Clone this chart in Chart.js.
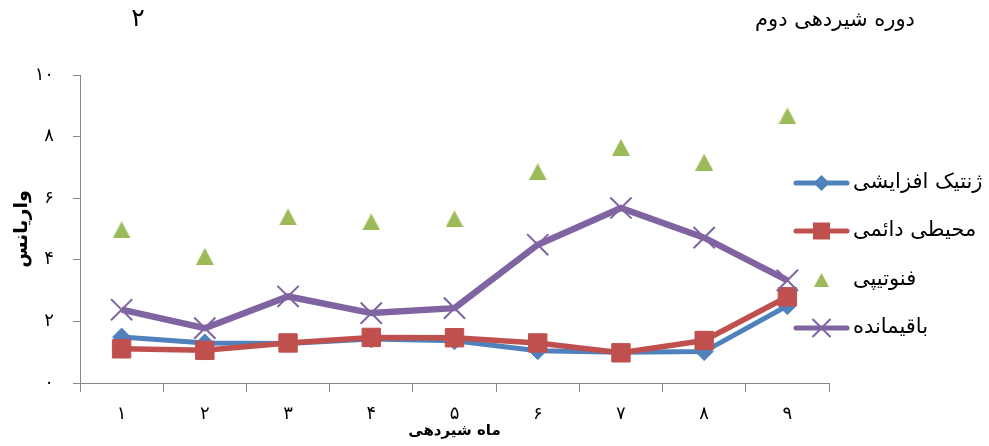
<!DOCTYPE html>
<html lang="fa">
<head>
<meta charset="utf-8">
<title>دوره شیردهی دوم</title>
<script src="https://cdn.jsdelivr.net/npm/chart.js@4/dist/chart.umd.min.js"></script>
<style>
  html, body { margin: 0; padding: 0; background: #ffffff; }
  #wrap { position: relative; width: 989px; height: 446px; }
</style>
</head>
<body>
<div id="wrap"><canvas id="chart" width="989" height="446"></canvas></div>
<script>
// Lactation months (category labels)
const months = ['۱', '۲', '۳', '۴', '۵', '۶', '۷', '۸', '۹'];

// Variance components per month
const additiveGenetic = [1.49, 1.30, 1.28, 1.43, 1.37, 1.05, 1.00, 1.02, 2.51];
const permanentEnv    = [1.11, 1.06, 1.30, 1.48, 1.47, 1.30, 0.98, 1.38, 2.80];
const phenotypic      = [4.97, 4.11, 5.39, 5.23, 5.33, 6.86, 7.65, 7.17, 8.67];
const residual        = [2.38, 1.78, 2.81, 2.27, 2.43, 4.49, 5.68, 4.72, 3.33];

// Series names
const seriesNames = ['ژنتیک افزایشی', 'محیطی دائمی', 'فنوتیپی', 'باقیمانده'];

// Text
const chartTitle = 'دوره شیردهی دوم';
const cornerNumber = '۲';
const xTitle = 'ماه شیردهی';
const yTitle = 'واریانس';

const FONT = '"DejaVu Sans", "Noto Sans", sans-serif';
const AXIS_GRAY = '#868686';
const BLUE = '#4F81BD', RED = '#C0504D', GREEN = '#9BBB59', PURPLE = '#8064A2';

const faDigits = '۰۱۲۳۴۵۶۷۸۹';
const toFa = n => String(n).replace(/\d/g, d => faDigits[+d]);

// Triangle marker sprite, centred on its bounding box
function triangleSprite(w, h, color) {
  const c = document.createElement('canvas');
  c.width = w; c.height = h;
  const g = c.getContext('2d');
  g.fillStyle = color;
  g.beginPath();
  g.moveTo(w / 2, 0); g.lineTo(w, h); g.lineTo(0, h);
  g.closePath(); g.fill();
  return c;
}
const greenTriangle = triangleSprite(18, 17, GREEN);
const greenTriangleSmall = triangleSprite(15, 14, GREEN);

// Legend drawn to the right of the plot: a line with its marker, then the name
function drawMarker(ctx, style, x, y, r, color) {
  ctx.save();
  ctx.fillStyle = color;
  ctx.strokeStyle = color;
  ctx.beginPath();
  if (style === 'rectRot') {
    ctx.moveTo(x - r, y); ctx.lineTo(x, y - r); ctx.lineTo(x + r, y); ctx.lineTo(x, y + r);
    ctx.closePath(); ctx.fill();
  } else if (style === 'rect') {
    ctx.rect(x - r, y - r, 2 * r, 2 * r); ctx.fill();
  } else if (style === 'triangle') {
    ctx.drawImage(greenTriangleSmall, x - greenTriangleSmall.width / 2, y - greenTriangleSmall.height / 2);
  } else if (style === 'crossRot') {
    ctx.lineWidth = 2;
    ctx.moveTo(x - r, y - r); ctx.lineTo(x + r, y + r);
    ctx.moveTo(x + r, y - r); ctx.lineTo(x - r, y + r);
    ctx.stroke();
  }
  ctx.restore();
}

const sideLegend = {
  id: 'sideLegend',
  afterDraw(chart) {
    const ctx = chart.ctx;
    const rows = [183, 231, 280, 328];
    const specs = [
      { style: 'rectRot', r: 8, line: true },
      { style: 'rect', r: 8.5, line: true },
      { style: 'triangle', r: 8, line: false },
      { style: 'crossRot', r: 8.5, line: true }
    ];
    chart.data.datasets.forEach((ds, i) => {
      const y = rows[i];
      const s = specs[i];
      ctx.save();
      if (s.line) {
        ctx.strokeStyle = ds.borderColor;
        ctx.lineWidth = 5;
        ctx.lineCap = 'round';
        ctx.beginPath();
        ctx.moveTo(796, y); ctx.lineTo(847, y);
        ctx.stroke();
      }
      drawMarker(ctx, s.style, 821.5, y, s.r, ds.borderColor);
      ctx.fillStyle = '#000000';
      ctx.font = '21px ' + FONT;
      ctx.textAlign = 'left';
      ctx.textBaseline = 'middle';
      ctx.fillText(ds.label, 853, y);
      ctx.restore();
    });
  }
};

// Page texts above the plot
const headerTexts = {
  id: 'headerTexts',
  afterDraw(chart) {
    const ctx = chart.ctx;
    ctx.save();
    ctx.fillStyle = '#000000';
    ctx.textBaseline = 'middle';
    ctx.textAlign = 'center';
    ctx.font = '25px ' + FONT;
    ctx.fillText(cornerNumber, 138, 19);
    ctx.font = '21px ' + FONT;
    ctx.fillText(chartTitle, 835, 21);
    ctx.restore();
  }
};

const lineDataset = (label, data, color, style, radius, width, order) => ({
  label, data,
  borderColor: color,
  backgroundColor: color,
  borderWidth: width,
  pointStyle: style,
  pointRadius: radius,
  pointBorderWidth: style === 'crossRot' ? 2 : 1,
  pointBackgroundColor: color,
  pointBorderColor: color,
  tension: 0,
  order
});

new Chart(document.getElementById('chart'), {
  type: 'line',
  data: {
    labels: months,
    datasets: [
      lineDataset(seriesNames[0], additiveGenetic, BLUE, 'rectRot', 9, 5, 3),
      lineDataset(seriesNames[1], permanentEnv, RED, 'rect', 13, 5.5, 2),
      {
        label: seriesNames[2], data: phenotypic,
        borderColor: GREEN, backgroundColor: GREEN,
        showLine: false,
        pointStyle: greenTriangle, pointRadius: 9,
        pointBackgroundColor: GREEN, pointBorderColor: GREEN, pointBorderWidth: 0,
        order: 1
      },
      lineDataset(seriesNames[3], residual, PURPLE, 'crossRot', 15, 6.5, 0)
    ]
  },
  options: {
    responsive: false,
    animation: false,
    events: [],
    layout: { padding: { left: 0, top: 75, right: 160, bottom: 0 } },
    plugins: {
      legend: { display: false },
      tooltip: { enabled: false },
      title: { display: false }
    },
    scales: {
      x: {
        type: 'category',
        offset: true,
        grid: {
          offset: true,
          drawOnChartArea: false,
          drawTicks: true,
          tickLength: 9,
          color: AXIS_GRAY,
          lineWidth: 1
        },
        border: { display: true, color: AXIS_GRAY, width: 1 },
        ticks: {
          color: '#000000',
          font: { family: FONT, size: 18 },
          padding: 12,
          maxRotation: 0,
          autoSkip: false
        },
        title: {
          display: true,
          text: xTitle,
          color: '#000000',
          font: { family: FONT, size: 15, weight: 'bold' },
          padding: { top: 0, bottom: 6 }
        },
        afterFit(scale) { scale.height = 63; }
      },
      y: {
        min: 0,
        max: 10,
        grid: {
          drawOnChartArea: false,
          drawTicks: true,
          tickLength: 7,
          color: AXIS_GRAY,
          lineWidth: 1
        },
        border: { display: true, color: AXIS_GRAY, width: 1 },
        ticks: {
          stepSize: 2,
          color: '#000000',
          font: { family: FONT, size: 18 },
          padding: 19,
          callback: v => toFa(v)
        },
        title: {
          display: true,
          text: yTitle,
          color: '#000000',
          font: { family: FONT, size: 19, weight: 'bold' },
          padding: { top: 11, bottom: 0 }
        },
        afterFit(scale) { scale.width = 80; }
      }
    }
  },
  plugins: [sideLegend, headerTexts]
});
</script>
</body>
</html>
